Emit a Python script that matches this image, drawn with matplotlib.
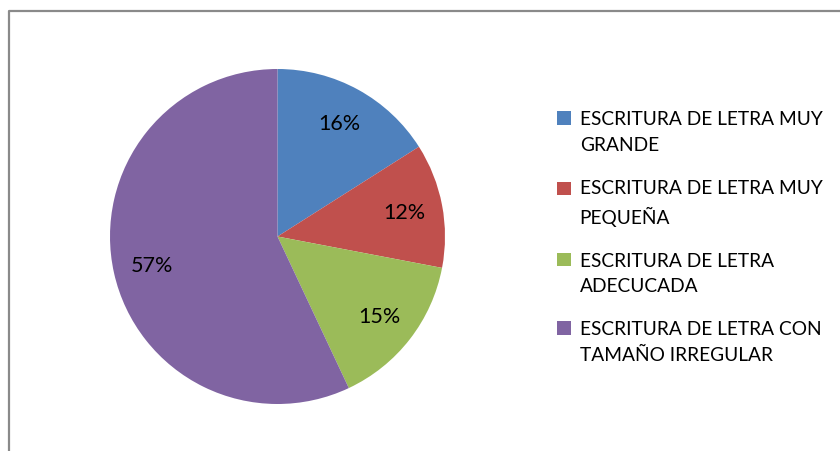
import matplotlib.pyplot as plt
from matplotlib.lines import Line2D
from matplotlib.patches import Rectangle
from matplotlib.legend_handler import HandlerPatch

categories = [
    'ESCRITURA DE LETRA MUY\nGRANDE',
    'ESCRITURA DE LETRA MUY\nPEQUEÑA',
    'ESCRITURA DE LETRA\nADECUCADA',
    'ESCRITURA DE LETRA CON\nTAMAÑO IRREGULAR',
]
values = [16, 12, 15, 57]
colors = ['#4F81BD', '#C0504D', '#9BBB59', '#8064A2']

plt.rcParams['font.family'] = ['Lato', 'DejaVu Sans']


class FirstLineHandler(HandlerPatch):
    # put the colour square next to the first line of the label
    def create_artists(self, legend, orig_handle, xdescent, ydescent,
                       width, height, fontsize, trans):
        p = Rectangle((-xdescent, -ydescent + 10), width, height,
                      facecolor=orig_handle.get_facecolor(),
                      edgecolor='none', transform=trans)
        return [p]


W, H = 840, 452
fig = plt.figure(figsize=(W / 100, H / 100), dpi=100)

# pie box in pixels: x 110..445, y 70..405
ax = fig.add_axes([110 / W, (H - 405) / H, 335 / W, 335 / H])
wedges, texts, autotexts = ax.pie(values, colors=colors, startangle=90,
                                  counterclock=False, autopct='%d%%',
                                  pctdistance=0.77,
                                  wedgeprops=dict(linewidth=0),
                                  textprops=dict(fontsize=15.5, color='black'))
ax.set_xlim(-1, 1)
ax.set_ylim(-1, 1)
ax.set_aspect('equal')

leg = fig.legend(wedges, categories, loc='upper left',
                 bbox_to_anchor=(540 / W, 1 - 94 / H),
                 frameon=False, fontsize=13.8,
                 handlelength=0.72, handleheight=0.72,
                 handletextpad=0.45, labelspacing=1.35,
                 handler_map={w: FirstLineHandler() for w in wedges})
for t in leg.get_texts():
    t.set_linespacing(1.6)

# partial frame like the original chart area
fig.add_artist(Line2D([8.5 / W, 8.5 / W, 1.0], [0, 1 - 12 / H, 1 - 12 / H],
                      color='#8a8a8a', linewidth=1.6))

fig.savefig('out.png', dpi=100)
